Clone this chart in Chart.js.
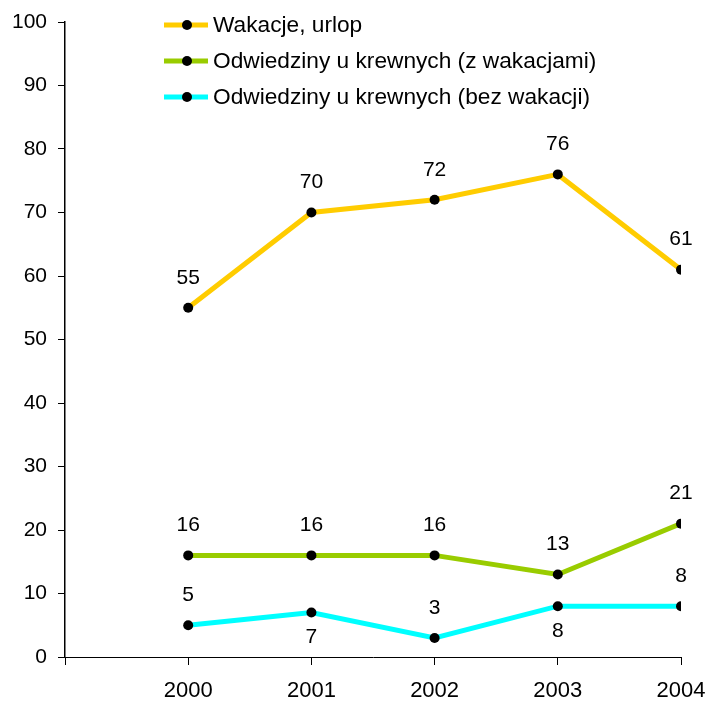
<!DOCTYPE html>
<html>
<head>
<meta charset="utf-8">
<script src="https://cdn.jsdelivr.net/npm/chart.js@4.4.0/dist/chart.umd.min.js"></script>
<style>
	body { margin: 0; background: #fff; }
	#wrap { width: 708px; height: 702px; }
</style>
</head>
<body>
<div id="wrap"><canvas id="tripChart" width="708" height="702"></canvas></div>
<script>
var years = [2000, 2001, 2002, 2003, 2004];
var yTicks = [0, 10, 20, 30, 40, 50, 60, 70, 80, 90, 100];
var seriesNames = ['Wakacje, urlop', 'Odwiedziny u krewnych (z wakacjami)', 'Odwiedziny u krewnych (bez wakacji)'];
var vacation = [55, 70, 72, 76, 61];
var relativesWithVacation = [16, 16, 16, 13, 21];
var relativesWithoutVacation = [5, 7, 3, 8, 8];

function toPoints(values) {
	return values.map(function(v, i) {
		return { x: years[i], y: v };
	});
}

var family = "'Liberation Sans', Arial, sans-serif";

// value labels above (or below) each point
var valueLabels = {
	id: 'valueLabels',
	afterDatasetsDraw: function(chart) {
		var ctx = chart.ctx;
		ctx.save();
		ctx.font = '21px ' + family;
		ctx.fillStyle = '#000';
		ctx.textAlign = 'center';
		ctx.textBaseline = 'middle';
		chart.data.datasets.forEach(function(ds, di) {
			var meta = chart.getDatasetMeta(di);
			meta.data.forEach(function(pt, i) {
				var below = ds.labelBelow && ds.labelBelow[i];
				var y = below ? pt.y + 25 : pt.y - 30;
				ctx.fillText(String(ds.data[i].y), pt.x, y);
			});
		});
		ctx.restore();
	}
};

// legend drawn by hand: line with a dot in the middle
var lineLegend = {
	id: 'lineLegend',
	afterDraw: function(chart) {
		var ctx = chart.ctx;
		ctx.save();
		ctx.font = '22.7px ' + family;
		ctx.textBaseline = 'middle';
		chart.data.datasets.forEach(function(ds, i) {
			var y = 25 + i * 36;
			ctx.strokeStyle = ds.borderColor;
			ctx.lineWidth = 5;
			ctx.beginPath();
			ctx.moveTo(164, y);
			ctx.lineTo(208, y);
			ctx.stroke();
			ctx.fillStyle = '#000';
			ctx.beginPath();
			ctx.arc(187, y, 5, 0, Math.PI * 2);
			ctx.fill();
			ctx.fillText(ds.label, 213, y + 1);
		});
		ctx.restore();
	}
};

function makeSet(name, values, color, below) {
	return {
		label: name,
		data: toPoints(values),
		borderColor: color,
		backgroundColor: '#000',
		borderWidth: 5,
		pointRadius: 5,
		pointBackgroundColor: '#000',
		pointBorderWidth: 0,
		tension: 0,
		labelBelow: below
	};
}

var ctx = document.getElementById('tripChart').getContext('2d');
var tripChart = new Chart(ctx, {
	type: 'line',
	data: {
		datasets: [
			makeSet(seriesNames[0], vacation, '#FFCC00'),
			makeSet(seriesNames[1], relativesWithVacation, '#99CC00'),
			makeSet(seriesNames[2], relativesWithoutVacation, '#00FFFF', [false, true, false, true, false])
		]
	},
	options: {
		responsive: false,
		animation: false,
		layout: { padding: { top: 22, right: 27, left: 0, bottom: 0 } },
		plugins: {
			legend: { display: false },
			tooltip: { enabled: false }
		},
		scales: {
			x: {
				type: 'linear',
				min: years[0] - 1,
				max: years[years.length - 1],
				afterBuildTicks: function(scale) {
					scale.ticks = [years[0] - 1].concat(years).map(function(v) { return { value: v }; });
				},
				ticks: {
					font: { family: family, size: 22 },
					color: '#000',
					padding: 13,
					maxRotation: 0,
					callback: function(v) { return years.indexOf(v) >= 0 ? String(v) : ''; }
				},
				grid: { drawOnChartArea: false, color: '#000', tickLength: 8, lineWidth: 1 },
				border: { color: '#000', width: 1 },
				afterFit: function(scale) {
					scale.height = 45;
					scale.paddingLeft = 0;
					scale.paddingRight = 0;
				}
			},
			y: {
				min: 0,
				max: 100,
				afterBuildTicks: function(scale) {
					scale.ticks = yTicks.map(function(v) { return { value: v }; });
				},
				ticks: {
					font: { family: family, size: 21 },
					color: '#000',
					padding: 11
				},
				grid: { drawOnChartArea: false, color: '#000', tickLength: 7, lineWidth: 1 },
				border: { color: '#000', width: 1.5 },
				afterFit: function(scale) {
					scale.width = 65;
					scale.paddingTop = 0;
					scale.paddingBottom = 0;
				}
			}
		}
	},
	plugins: [valueLabels, lineLegend]
});
</script>
</body>
</html>
